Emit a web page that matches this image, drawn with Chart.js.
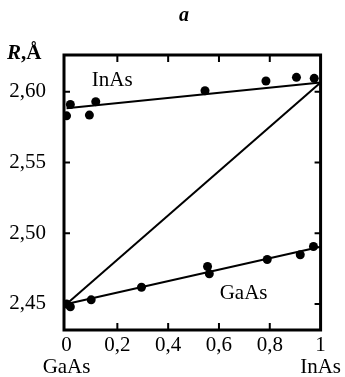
<!DOCTYPE html>
<html lang="ru">
<head>
<meta charset="UTF-8">
<title>R(x) GaAs–InAs</title>
<script src="https://cdn.jsdelivr.net/npm/chart.js"></script>
<style>
  body { margin: 0; background: #fff; }
  canvas { display: block; }
</style>
</head>
<body>
<canvas id="grafico" width="345" height="377"></canvas>
<script>
// состав x (0 = GaAs, 1 = InAs) и длины связей R, Å
const inasX = [0, 0.015, 0.09, 0.115, 0.545, 0.785, 0.905, 0.975];
const inasY = [2.583, 2.591, 2.5835, 2.593, 2.6007, 2.6076, 2.6102, 2.6095];
const gaasX = [0, 0.015, 0.097, 0.295, 0.555, 0.562, 0.79, 0.92, 0.972];
const gaasY = [2.450, 2.448, 2.4529, 2.4618, 2.4765, 2.4713, 2.4814, 2.4848, 2.4906];

// прямые: аппроксимации и закон Вегарда
const fitX = [0, 1];
const inasFitY = [2.5884, 2.6065];
const gaasFitY = [2.45, 2.4905];
const vegardY = [2.45, 2.6065];

const xTicks = [0, 0.2, 0.4, 0.6, 0.8, 1];
const yTicks = [2.45, 2.50, 2.55, 2.60];
const xNames = { 0: 'GaAs', 1: 'InAs' };

const serif = '"Liberation Serif", "DejaVu Serif", serif';

function pts(xs, ys) {
    return xs.map((x, i) => ({ x: x, y: ys[i] }));
}

function pointSet(xs, ys) {
    return {
        data: pts(xs, ys),
        showLine: false,
        pointRadius: 4.5,
        pointBackgroundColor: '#000',
        pointBorderWidth: 0
    };
}

function lineSet(ys) {
    return {
        data: pts(fitX, ys),
        showLine: true,
        borderColor: '#000',
        borderWidth: 2,
        pointRadius: 0
    };
}

// рамка, внутренние засечки и подписи
const oformlenie = {
    id: 'oformlenie',
    afterDraw(chart) {
        const ctx = chart.ctx;
        const a = chart.chartArea;
        const sx = chart.scales.x;
        const sy = chart.scales.y;
        ctx.save();
        ctx.strokeStyle = '#000';
        ctx.lineWidth = 3;
        ctx.strokeRect(a.left, a.top, a.right - a.left, a.bottom - a.top);

        ctx.lineWidth = 2;
        ctx.beginPath();
        xTicks.forEach(v => {
            if (v === 0 || v === 1) return;
            const px = sx.getPixelForValue(v);
            ctx.moveTo(px, a.bottom); ctx.lineTo(px, a.bottom - 7);
            ctx.moveTo(px, a.top); ctx.lineTo(px, a.top + 7);
        });
        yTicks.forEach(v => {
            const py = sy.getPixelForValue(v);
            ctx.moveTo(a.left, py); ctx.lineTo(a.left + 6, py);
            ctx.moveTo(a.right, py); ctx.lineTo(a.right - 6, py);
        });
        ctx.stroke();

        ctx.fillStyle = '#000';
        ctx.textBaseline = 'middle';
        ctx.textAlign = 'center';
        ctx.font = '21px ' + serif;
        ctx.fillText('InAs', sx.getPixelForValue(0.18), sy.getPixelForValue(2.6083));
        ctx.fillText('GaAs', sx.getPixelForValue(0.697), sy.getPixelForValue(2.4573));

        ctx.font = 'italic bold 20px ' + serif;
        ctx.fillText('a', 184, 16);

        ctx.textAlign = 'left';
        ctx.textBaseline = 'alphabetic';
        ctx.font = 'italic bold 21px ' + serif;
        ctx.fillText('R', 7, 59);
        const w = ctx.measureText('R').width;
        ctx.font = 'bold 21px ' + serif;
        ctx.fillText(',Å', 7 + w, 59);
        ctx.restore();
    }
};

new Chart(document.getElementById('grafico'), {
    type: 'scatter',
    data: {
        datasets: [
            lineSet(vegardY),
            lineSet(inasFitY),
            lineSet(gaasFitY),
            pointSet(inasX, inasY),
            pointSet(gaasX, gaasY)
        ]
    },
    options: {
        responsive: false,
        animation: false,
        layout: { padding: { top: 55, right: 23, bottom: 0, left: 0 } },
        plugins: {
            legend: { display: false },
            tooltip: { enabled: false }
        },
        scales: {
            x: {
                type: 'linear',
                min: -0.01,
                max: 1,
                grid: { display: false, drawTicks: false },
                border: { display: false },
                afterBuildTicks: s => { s.ticks = xTicks.map(v => ({ value: v })); },
                afterFit: s => { s.height = 47; },
                ticks: {
                    padding: 4,
                    color: '#000',
                    maxRotation: 0,
                    autoSkip: false,
                    font: { family: serif, size: 21, lineHeight: 1.05 },
                    callback: v => {
                        const t = (v === 0 || v === 1) ? String(v) : v.toFixed(1).replace('.', ',');
                        return xNames[v] ? [t, xNames[v]] : t;
                    }
                }
            },
            y: {
                min: 2.4316,
                max: 2.626,
                grid: { display: false, drawTicks: false },
                border: { display: false },
                afterBuildTicks: s => { s.ticks = yTicks.map(v => ({ value: v })); },
                afterFit: s => { s.width = 64; },
                ticks: {
                    padding: 18,
                    color: '#000',
                    font: { family: serif, size: 21 },
                    callback: v => v.toFixed(2).replace('.', ',')
                }
            }
        }
    },
    plugins: [oformlenie]
});
</script>
</body>
</html>
